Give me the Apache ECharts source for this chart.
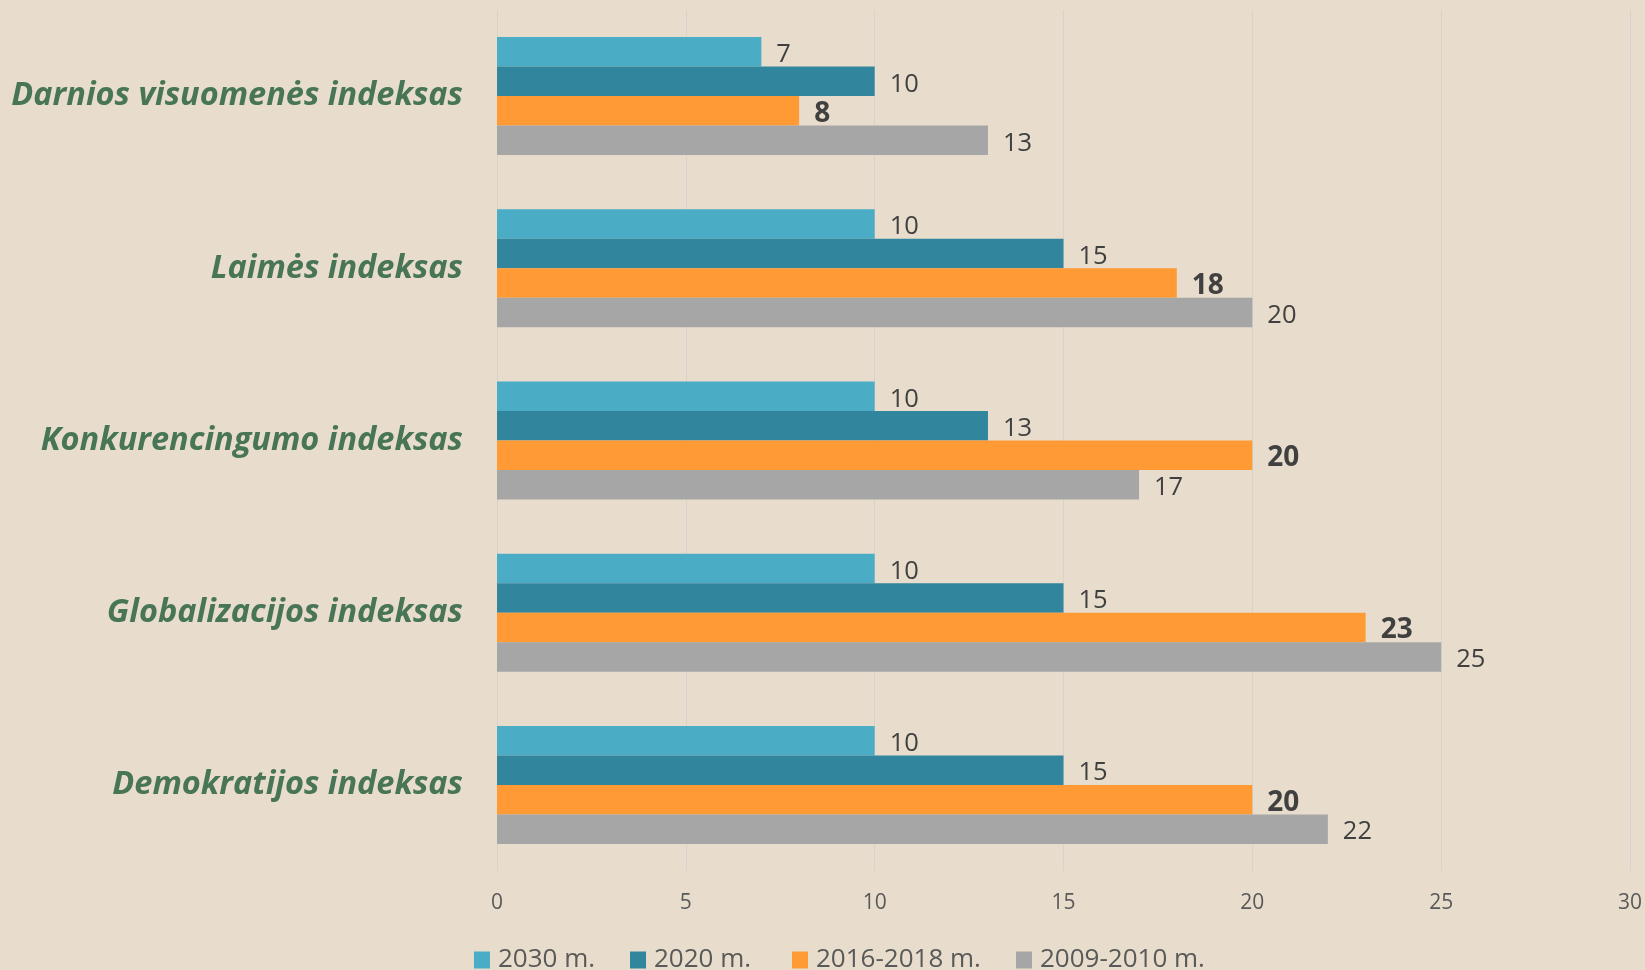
<!DOCTYPE html>
<html>
<head>
<meta charset="utf-8">
<script src="https://cdn.jsdelivr.net/npm/echarts@6/dist/echarts.min.js"></script>
<style>
html,body{margin:0;padding:0;background:#e8ddcc;}
#c{width:1645px;height:970px;}
</style>
</head>
<body>
<div id="c"></div>
<script>
const categories = ['Darnios visuomenės indeksas','Laimės indeksas','Konkurencingumo indeksas','Globalizacijos indeksas','Demokratijos indeksas'];
const seriesNames = ['2030 m.','2020 m.','2016-2018 m.','2009-2010 m.'];
const s2030 = [7,10,10,10,10];
const s2020 = [10,15,13,15,15];
const s2016 = [8,18,20,23,20];
const s2009 = [13,20,17,25,22];
const xTicks = [0,5,10,15,20,25,30];

const colors = ['#4bacc6','#31859c','#ff9a35','#a6a6a6'];
const values = [s2030,s2020,s2016,s2009];
const legendLeft = [474,630,792,1016];

const chart = echarts.init(document.getElementById('c'));
chart.setOption({
  backgroundColor:'#e8ddcc',
  animation:false,
  legend: seriesNames.map((n,i)=>({
    top:947, left:legendLeft[i], padding:0,
    itemWidth:16, itemHeight:17,
    icon:'rect',
    textStyle:{fontFamily:'Open Sans', fontSize:26, lineHeight:17, color:'#595959', padding:[0,0,6,3]},
    data:[n]
  })),
  grid:{left:497, right:14, top:10, bottom:99},
  xAxis:{
    type:'value', min:xTicks[0], max:xTicks[xTicks.length-1], interval:5,
    axisLine:{show:false},
    axisTick:{show:false},
    splitLine:{show:true, lineStyle:{color:'#d6d3cf', width:1}},
    axisLabel:{fontFamily:'Open Sans', fontSize:21, color:'#595959', margin:22}
  },
  yAxis:{
    type:'category', inverse:true, data:categories,
    axisLine:{show:false}, axisTick:{show:false},
    axisLabel:{fontFamily:'Open Sans', fontStyle:'italic', fontWeight:'bold', fontSize:32.5, color:'#477556', margin:34}
  },
  series: seriesNames.map((n,i)=>({
    name:n, type:'bar', data:values[i],
    barGap:'0%', barCategoryGap:'31.5%',
    itemStyle:{color:colors[i]},
    label:{show:true, position:'right', distance:15, offset:[0,3],
      fontFamily:'Open Sans', fontSize: i===2 ? 28 : 25.5,
      fontWeight: i===2 ? 'bold' : 'normal',
      color:'#404040'}
  }))
});
</script>
</body>
</html>
